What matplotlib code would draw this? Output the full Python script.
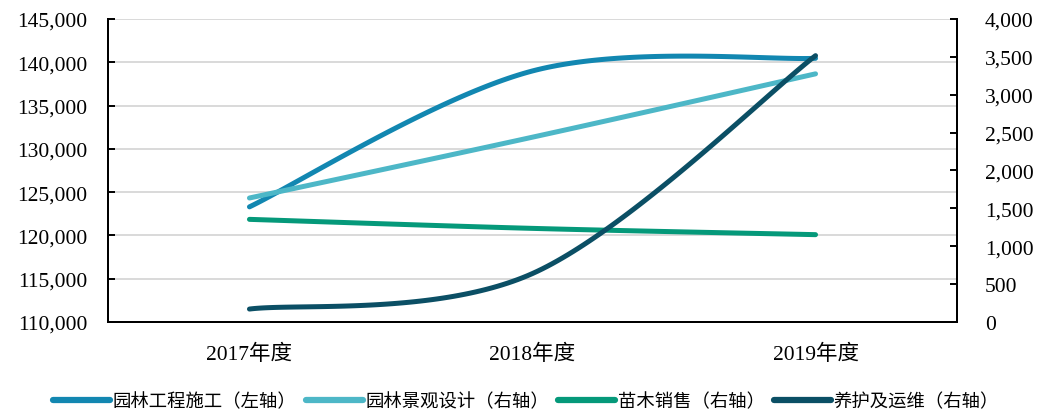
import numpy as np
import matplotlib
matplotlib.use("Agg")
import matplotlib.pyplot as plt
from matplotlib.ticker import FuncFormatter, MultipleLocator
from matplotlib.lines import Line2D

categories = ["2017年度", "2018年度", "2019年度"]
construction = [123300, 139000, 140460]     # 园林工程施工（左轴）
design = [1637, 2440, 3276]                 # 园林景观设计（右轴）
seedling = [1355, 1236, 1153]               # 苗木销售（右轴）
maintenance = [171, 640, 3516]              # 养护及运维（右轴）

names = ["园林工程施工（左轴）", "园林景观设计（右轴）", "苗木销售（右轴）", "养护及运维（右轴）"]
colors = ["#1287B1", "#4DB7C7", "#05997A", "#0B4F65"]


def smooth(xs, ys, n=60):
    """Excel-like smoothed line: Catmull-Rom converted to cubic Bezier."""
    pts = np.column_stack([xs, ys]).astype(float)
    P = np.vstack([pts[0], pts, pts[-1]])
    out = []
    t = np.linspace(0, 1, n)[:, None]
    for i in range(1, len(P) - 2):
        p0, p1, p2, p3 = P[i - 1], P[i], P[i + 1], P[i + 2]
        c1 = p1 + (p2 - p0) / 6.0
        c2 = p2 - (p3 - p1) / 6.0
        seg = ((1 - t) ** 3) * p1 + 3 * ((1 - t) ** 2) * t * c1 + 3 * (1 - t) * t ** 2 * c2 + t ** 3 * p2
        out.append(seg if i == 1 else seg[1:])
    s = np.vstack(out)
    return s[:, 0], s[:, 1]


fig = plt.figure(figsize=(10.44, 4.14), dpi=100)
ax = fig.add_axes([0.1034, 0.2198, 0.8133, 0.7319])
ax2 = ax.twinx()

x = np.arange(len(categories))
lw = 3.6
sx, sy = smooth(x, construction)
ax.plot(sx, sy, color=colors[0], lw=lw, solid_capstyle="round")
for vals, c in zip([design, seedling, maintenance], colors[1:]):
    sx, sy = smooth(x, vals)
    ax2.plot(sx, sy, color=c, lw=lw, solid_capstyle="round")

ax.set_xlim(-0.5, 2.5)
ax.set_ylim(110000, 145000)
ax2.set_ylim(0, 4000)
ax.yaxis.set_major_locator(MultipleLocator(5000))
ax2.yaxis.set_major_locator(MultipleLocator(500))
fmt = FuncFormatter(lambda v, p: f"{int(round(v)):,}")
ax.yaxis.set_major_formatter(fmt)
ax2.yaxis.set_major_formatter(fmt)

ax.grid(axis="y", color="#D9D9D9", lw=1.4)
ax.set_axisbelow(True)

for a in (ax, ax2):
    a.spines["top"].set_visible(False)
    for s in ("left", "right", "bottom"):
        a.spines[s].set_linewidth(1.4)
        a.spines[s].set_color("black")

serif = ["Liberation Serif", "Noto Sans CJK SC"]
ax.set_xticks(x)
ax.set_xticklabels(categories, family=serif, fontsize=15.5)
ax.tick_params(axis="x", length=0, pad=16)
ax.tick_params(axis="y", direction="in", length=5, width=1.4, pad=15)
ax2.tick_params(axis="y", direction="in", length=5, width=1.4, pad=20)
for lab in ax.get_yticklabels() + ax2.get_yticklabels():
    lab.set_family(serif)
    lab.set_fontsize(15.5)

handles = [Line2D([], [], color=c, lw=4.5, solid_capstyle="round") for c in colors]
fig.legend(handles, names, loc="center", bbox_to_anchor=(0.504, 0.029), ncol=4,
           frameon=False, prop={"family": ["Noto Sans CJK SC", "DejaVu Sans"], "size": 13.2},
           handlelength=3.1, handletextpad=0.15, columnspacing=0.5, borderaxespad=0)

fig.savefig("out.png", dpi=100)
